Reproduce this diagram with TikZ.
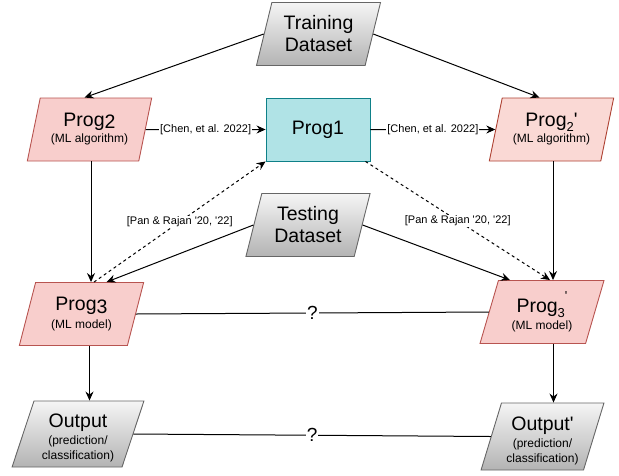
\documentclass[tikz,border=0pt]{standalone}
\usepackage{fontspec}
\setmainfont{Liberation Sans}
\usetikzlibrary{shapes.geometric,arrows.meta,calc}
\definecolor{pinkfill}{HTML}{F8CECC}
\definecolor{pinkline}{HTML}{B85450}
\definecolor{pinkfilltwo}{HTML}{FAD9D5}
\definecolor{pinklinetwo}{HTML}{AE4132}
\definecolor{tealfill}{HTML}{B0E3E6}
\definecolor{tealline}{HTML}{0E8088}
\definecolor{graytop}{HTML}{F5F5F5}
\definecolor{graybot}{HTML}{B3B3B3}
\definecolor{grayline}{HTML}{666666}
\newcommand{\mytitle}{\fontsize{19.5}{23}\selectfont}
\newcommand{\mysub}{\fontsize{12}{14}\selectfont}
\newcommand{\aq}{\textquotesingle}
\begin{document}
\begin{tikzpicture}[x=1pt,y=-1pt,
  para/.style={trapezium, trapezium left angle=72.4, trapezium right angle=107.6,
    trapezium stretches=true, minimum width=125pt, minimum height=63pt,
    inner sep=0pt, align=center, line width=0.9pt, font=\mytitle},
  pinkbox/.style={para, fill=pinkfill, draw=pinkline},
  pinkboxtwo/.style={para, fill=pinkfilltwo, draw=pinklinetwo},
  graybox/.style={para, top color=graytop, bottom color=graybot, draw=grayline},
  tealbox/.style={rectangle, minimum width=104pt, minimum height=63pt, inner sep=0pt,
    fill=tealfill, draw=tealline, line width=0.9pt, font=\mytitle},
  arr/.style={-{Stealth[length=9pt,width=8pt,inset=3pt]}, line width=1pt},
  dasharr/.style={arr, dash pattern=on 3pt off 3pt},
  plain/.style={line width=1pt},
  lbl/.style={fill=white, inner sep=1pt, font=\fontsize{11}{13}\selectfont},
  qlbl/.style={fill=white, inner sep=1pt, font=\fontsize{19}{22}\selectfont}
]
\useasboundingbox (0,0) rectangle (619,475);

\node[graybox] (T) at (318.5,34) {Training\\[-1pt]Dataset};
\node[pinkbox] (P2) at (89.5,129.5) {Prog\raisebox{-2pt}{2}\\[-7pt]{\mysub (ML algorithm)}};
\node[tealbox] (P1) at (318,129.5) {Prog1};
\node[pinkboxtwo] (P2p) at (551.5,129.5) {Prog\raisebox{-5pt}{\fontsize{13}{13}\selectfont 2}\aq\\[-7pt]{\mysub (ML algorithm)}};
\node[graybox] (Te) at (308,225) {Testing\\[-1pt]Dataset};
\node[pinkbox] (P3) at (81.5,314) {Prog\raisebox{-3pt}{3}\\[-5pt]{\mysub (ML model)}};
\node[pinkbox] (P3p) at (542,312) {Prog\raisebox{-5pt}{\fontsize{13}{13}\selectfont 3}\raisebox{12pt}{\fontsize{13}{13}\selectfont\aq}\\[-6pt]{\mysub (ML model)}};
\node[graybox, minimum width=132pt, minimum height=66pt] (O) at (78,434)
  {\rule{0pt}{22pt}Output\\[-6pt]{\mysub (prediction/}\\[-8pt]{\mysub classification)}};
\node[graybox, minimum width=123pt, minimum height=67pt] (Op) at (542.5,436.5)
  {\rule{0pt}{22pt}Output\aq\\[-6pt]{\mysub (prediction/}\\[-8pt]{\mysub classification)}};

% Training dataset
\draw[arr] (T.west) -- ([xshift=-5pt]P2.north);
\draw[arr] (T.east) -- ([xshift=-12pt]P2p.north);
% Chen
\draw[arr] (P2.east) -- node[lbl]{[Chen, et al. 2022]} (P1.west);
\draw[arr] (P1.east) -- node[lbl]{[Chen, et al. 2022]} (P2p.west);
% verticals
\coordinate (a2) at ($(P2.south)+(1.5,0)$);
\draw[arr] (a2) -- (a2 |- P3.north);
\coordinate (a2p) at ($(P2p.south)+(1.5,0)$);
\draw[arr] (a2p) -- (a2p |- P3p.north);
% dashed
\coordinate (d3) at ($(a2 |- P3.north)+(3,0)$);
\draw[dasharr] (d3) -- node[lbl]{[Pan \& Rajan \aq20, \aq22]} (P1.south west);
\coordinate (d3p) at ($(a2p |- P3p.north)+(-3,0)$);
\draw[dasharr] ([xshift=-5pt]P1.south east) -- node[lbl]{[Pan \& Rajan \aq20, \aq22]} (d3p);
% testing
\coordinate (t3) at ($(P3.north)+(25,0)$);
\draw[arr] (Te.west) -- (t3);
\coordinate (t3p) at ($(P3p.north)+(-32,0)$);
\draw[arr] (Te.east) -- (t3p);
% question lines
\draw[plain] (P3.east) -- node[qlbl]{?} (P3p.west);
\draw[plain] (O.east) -- node[qlbl]{?} (Op.west);
% to outputs
\coordinate (a3) at ($(P3.south)+(8,0)$);
\draw[arr] (a3) -- (a3 |- O.north);
\coordinate (a3p) at ($(P3p.south)+(11.5,0)$);
\draw[arr] (a3p) -- (a3p |- Op.north);
\end{tikzpicture}
\end{document}
